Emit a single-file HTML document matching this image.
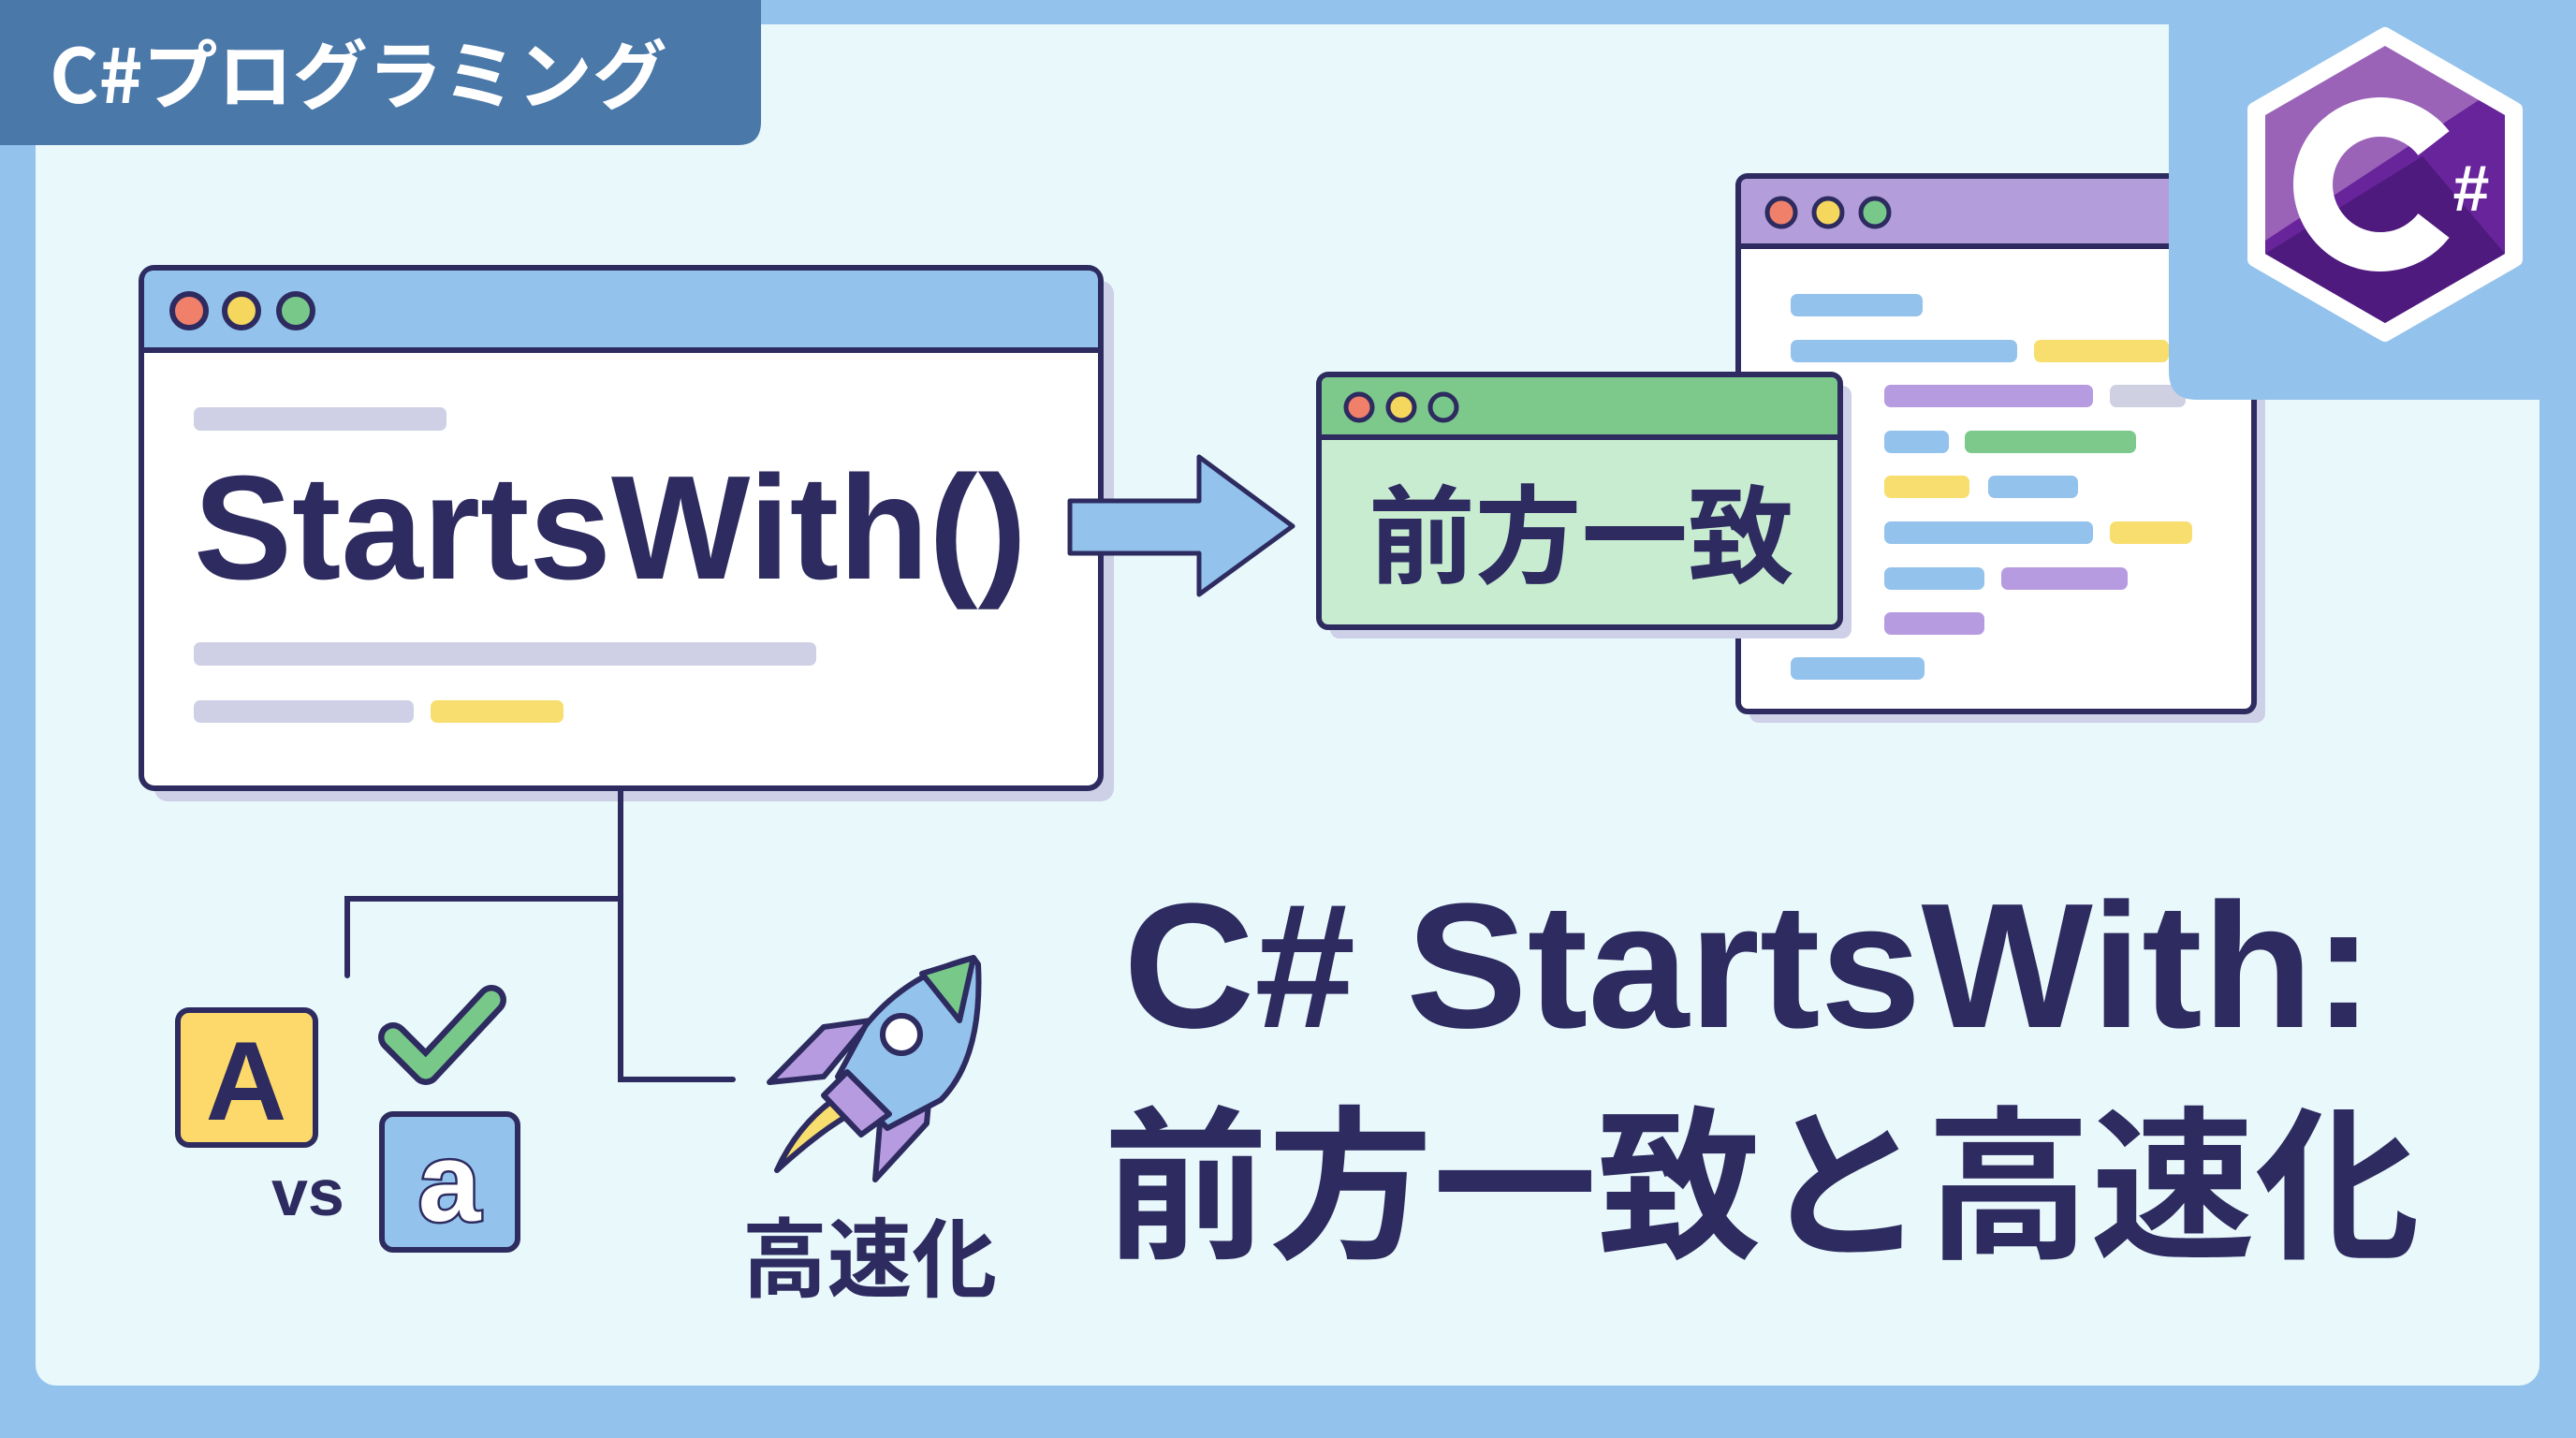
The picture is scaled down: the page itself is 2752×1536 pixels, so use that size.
<!DOCTYPE html>
<html><head><meta charset="utf-8"><style>
html,body{margin:0;padding:0;width:2752px;height:1536px;overflow:hidden;background:#93c2ec}
svg{display:block}
text{font-family:"Liberation Sans","Noto Sans CJK JP",sans-serif;font-weight:bold}
.j{font-family:"Noto Sans CJK JP","Liberation Sans",sans-serif;font-weight:bold}
</style></head><body>
<svg width="2752" height="1536" viewBox="0 0 2752 1536" xmlns="http://www.w3.org/2000/svg">
<rect x="0" y="0" width="2752" height="1536" fill="#93c2ec"/>
<rect x="38" y="26" width="2675" height="1454" rx="22" fill="#e8f8fb"/>
<path d="M0 0 H813 V130 Q813 155 788 155 H0 Z" fill="#4a78a8"/>
<text x="53" y="110" class="j" font-size="80" fill="#ffffff">C#プログラミング</text>

<rect x="1869" y="200" width="551" height="572" rx="10" fill="#cdd0e6"/>
<rect x="1857" y="188" width="551" height="572" rx="10" fill="#ffffff" stroke="#2d2b5f" stroke-width="6"/>
<path d="M1860 263 V198 Q1860 191 1867 191 H2398 Q2405 191 2405 198 V263 Z" fill="#b39ddb"/>
<line x1="1857" y1="263" x2="2408" y2="263" stroke="#2d2b5f" stroke-width="6"/>
<circle cx="1903" cy="227" r="15" fill="#f0806a" stroke="#2d2b5f" stroke-width="5"/>
<circle cx="1953" cy="227" r="15" fill="#f4d75c" stroke="#2d2b5f" stroke-width="5"/>
<circle cx="2003" cy="227" r="15" fill="#78c88a" stroke="#2d2b5f" stroke-width="5"/>
<g>
<rect x="1913" y="314" width="141" height="24" rx="7" fill="#93c2ec"/>
<rect x="1913" y="363" width="242" height="24" rx="7" fill="#93c2ec"/>
<rect x="2173" y="363" width="144" height="24" rx="7" fill="#f7de6e"/>
<rect x="2013" y="411" width="223" height="24" rx="7" fill="#b79be0"/>
<rect x="2254" y="411" width="81" height="24" rx="7" fill="#cfd0e2"/>
<rect x="2013" y="460" width="69" height="24" rx="7" fill="#93c2ec"/>
<rect x="2099" y="460" width="183" height="24" rx="7" fill="#7dc98c"/>
<rect x="2013" y="508" width="91" height="24" rx="7" fill="#f7de6e"/>
<rect x="2124" y="508" width="96" height="24" rx="7" fill="#93c2ec"/>
<rect x="2013" y="557" width="223" height="24" rx="7" fill="#93c2ec"/>
<rect x="2254" y="557" width="88" height="24" rx="7" fill="#f7de6e"/>
<rect x="2013" y="606" width="107" height="24" rx="7" fill="#93c2ec"/>
<rect x="2138" y="606" width="135" height="24" rx="7" fill="#b79be0"/>
<rect x="2013" y="654" width="107" height="24" rx="7" fill="#b79be0"/>
<rect x="1913" y="702" width="143" height="24" rx="7" fill="#93c2ec"/>
</g>

<path d="M2317 0 H2752 V427 H2347 Q2317 427 2317 397 Z" fill="#93c2ec"/>
<g transform="translate(2548,197)">
<polygon points="0,-160 139,-80 139,80 0,160 -139,80 -139,-80" fill="#ffffff" stroke="#ffffff" stroke-width="16" stroke-linejoin="round"/>
<polygon points="0,-148 128,-74 128,74 0,148 -128,74 -128,-74" fill="#9a63b8"/>
<polygon points="128,-74 128,74 0,148 -128,74 -128,60 100,-90" fill="#68249a"/>
<polygon points="128,74 0,148 -128,74 40,-30 " fill="#4e1a7e"/>
<path d="M52 -44 A72 72 0 1 0 52 44" fill="none" stroke="#ffffff" stroke-width="42"/>
<text x="92" y="28" font-size="70" fill="#ffffff" text-anchor="middle">#</text>
</g>

<rect x="165" y="300" width="1025" height="556" rx="14" fill="#cdd0e6"/>
<rect x="151" y="286" width="1025" height="556" rx="14" fill="#ffffff" stroke="#2d2b5f" stroke-width="6"/>
<path d="M154 374 V300 Q154 289 165 289 H1162 Q1173 289 1173 300 V374 Z" fill="#93c2ec"/>
<line x1="151" y1="374" x2="1176" y2="374" stroke="#2d2b5f" stroke-width="6"/>
<circle cx="202" cy="332" r="18" fill="#f0806a" stroke="#2d2b5f" stroke-width="6"/>
<circle cx="258" cy="332" r="18" fill="#f4d75c" stroke="#2d2b5f" stroke-width="6"/>
<circle cx="316" cy="332" r="18" fill="#78c88a" stroke="#2d2b5f" stroke-width="6"/>
<rect x="207" y="435" width="270" height="25" rx="7" fill="#cfd0e6"/>
<text x="207" y="618" font-size="158" fill="#2d2b5f" textLength="890" lengthAdjust="spacingAndGlyphs">StartsWith()</text>
<rect x="207" y="686" width="665" height="25" rx="7" fill="#cfd0e6"/>
<rect x="207" y="748" width="235" height="24" rx="7" fill="#cfd0e6"/>
<rect x="460" y="748" width="142" height="24" rx="7" fill="#f7de6e"/>

<polygon points="1143,535 1281,535 1281,488 1381,562 1281,635 1281,591 1143,591" fill="#93c2ec" stroke="#2d2b5f" stroke-width="5" stroke-linejoin="round"/>

<rect x="1421" y="412" width="557" height="270" rx="10" fill="#cdd0e6"/>
<rect x="1409" y="400" width="557" height="270" rx="10" fill="#c8ecd0" stroke="#2d2b5f" stroke-width="6"/>
<path d="M1412 467 V410 Q1412 403 1419 403 H1956 Q1963 403 1963 410 V467 Z" fill="#7dc98c"/>
<line x1="1409" y1="467" x2="1966" y2="467" stroke="#2d2b5f" stroke-width="6"/>
<circle cx="1452" cy="435" r="14" fill="#f0806a" stroke="#2d2b5f" stroke-width="5"/>
<circle cx="1497" cy="435" r="14" fill="#f4d75c" stroke="#2d2b5f" stroke-width="5"/>
<circle cx="1542" cy="435" r="14" fill="#78c88a" stroke="#2d2b5f" stroke-width="5"/>
<text x="1462" y="614" class="j" font-size="114" fill="#2d2b5f" textLength="455" lengthAdjust="spacingAndGlyphs">前方一致</text>

<g fill="none" stroke="#2d2b5f" stroke-width="6" stroke-linecap="round">
<path d="M663 845 V1153 H783"/>
<path d="M663 960 H371 V1042"/>
</g>

<rect x="190" y="1079" width="147" height="144" rx="12" fill="#fcd96a" stroke="#2d2b5f" stroke-width="6"/>
<text x="263" y="1196" font-size="120" fill="#2d2b5f" text-anchor="middle">A</text>
<path d="M420 1108 L455 1143 L525 1068" fill="none" stroke="#2d2b5f" stroke-width="32" stroke-linejoin="round" stroke-linecap="round"/>
<path d="M420 1108 L455 1143 L525 1068" fill="none" stroke="#78c88a" stroke-width="19" stroke-linejoin="round" stroke-linecap="round"/>
<text x="290" y="1298" font-size="70" fill="#2d2b5f">vs</text>
<rect x="408" y="1190" width="145" height="145" rx="12" fill="#93c2ec" stroke="#2d2b5f" stroke-width="6"/>
<text x="480" y="1304" font-size="120" fill="#ffffff" stroke="#2d2b5f" stroke-width="5" text-anchor="middle" paint-order="stroke">a</text>

<g stroke="#2d2b5f" stroke-width="6" stroke-linejoin="round">
<path d="M922 1183 Q885 1200 830 1250 Q855 1195 905 1165 Z" fill="#f7de6e"/>
<path d="M930 1090 L880 1097 L822 1156 L880 1150 Z" fill="#b79be0"/>
<path d="M995 1145 L990 1200 L935 1260 L940 1200 Z" fill="#b79be0"/>
<path d="M1040 1023 Q970 1040 925 1095 L895 1150 L948 1205 L1005 1175 Q1050 1130 1045 1030 Z" fill="#93c2ec"/>
<path d="M1040 1023 L985 1040 L1025 1090 Z" fill="#78c88a"/>
<path d="M905 1145 L880 1170 L920 1212 L950 1190 Z" fill="#b79be0"/>
<circle cx="963" cy="1105" r="20" fill="#ffffff"/>
</g>
<text x="793" y="1378" class="j" font-size="92" fill="#2d2b5f" textLength="272" lengthAdjust="spacingAndGlyphs">高速化</text>

<text x="1200" y="1097" font-size="190" fill="#2d2b5f" textLength="1336" lengthAdjust="spacingAndGlyphs">C# StartsWith:</text>
<text x="1179" y="1330" class="j" font-size="176" fill="#2d2b5f" textLength="1406" lengthAdjust="spacingAndGlyphs">前方一致と高速化</text>
</svg>
</body></html>
